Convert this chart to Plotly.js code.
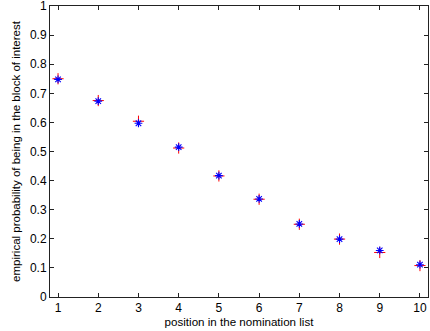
<!DOCTYPE html>
<html><head><meta charset="utf-8">
<script src="https://cdn.plot.ly/plotly-3.0.1.min.js"></script>
<style>body{margin:0;background:#fff}#c{width:430px;height:331px}</style>
</head><body><div id="c"></div>
<script>
const positions = [1,2,3,4,5,6,7,8,9,10];
const redValues = [0.750, 0.675, 0.604, 0.512, 0.416, 0.336, 0.250, 0.199, 0.153, 0.108];
const blueValues = [0.748, 0.673, 0.597, 0.515, 0.417, 0.337, 0.251, 0.199, 0.160, 0.111];
const xTicks = [1,2,3,4,5,6,7,8,9,10];
const yTicks = [0,0.1,0.2,0.3,0.4,0.5,0.6,0.7,0.8,0.9,1];
const yTickText = ['0','0.1','0.2','0.3','0.4','0.5','0.6','0.7','0.8','0.9','1'];

const traces = [
  {x: positions, y: redValues, mode: 'markers', type: 'scatter',
   marker: {symbol: 'cross-thin-open', size: 8, color: '#ff0000', line: {color: '#ff0000', width: 1}}},
  {x: positions, y: blueValues, mode: 'markers', type: 'scatter',
   marker: {symbol: 'asterisk-open', size: 6.5, color: '#0000ff', line: {color: '#0000ff', width: 1.1}}}
];
const axisCommon = {showgrid: false, zeroline: false, showline: true, linecolor: '#222', linewidth: 1,
  mirror: 'ticks', ticks: 'inside', ticklen: 4, tickcolor: '#222', ticklabeloverflow: 'allow',
  tickfont: {family: 'Liberation Sans, Arial, sans-serif', size: 12, color: '#000'}};
const layout = {
  width: 430, height: 331, showlegend: false,
  paper_bgcolor: '#fff', plot_bgcolor: '#fff',
  margin: {l: 50, r: 2, t: 6, b: 34},
  font: {family: 'Liberation Sans, Arial, sans-serif', size: 12, color: '#000'},
  xaxis: Object.assign({}, axisCommon, {range: [0.8, 10.2], tickvals: xTicks,
    title: {text: 'position in the nomination list', standoff: 3, font: {size: 11.6}}}),
  yaxis: Object.assign({}, axisCommon, {range: [0, 1], tickvals: yTicks, ticktext: yTickText,
    title: {text: 'empirical probability of being in the block of interest', standoff: 6, font: {size: 11.5}}})
};
Plotly.newPlot('c', traces, layout, {displayModeBar: false, staticPlot: true});
</script></body></html>
